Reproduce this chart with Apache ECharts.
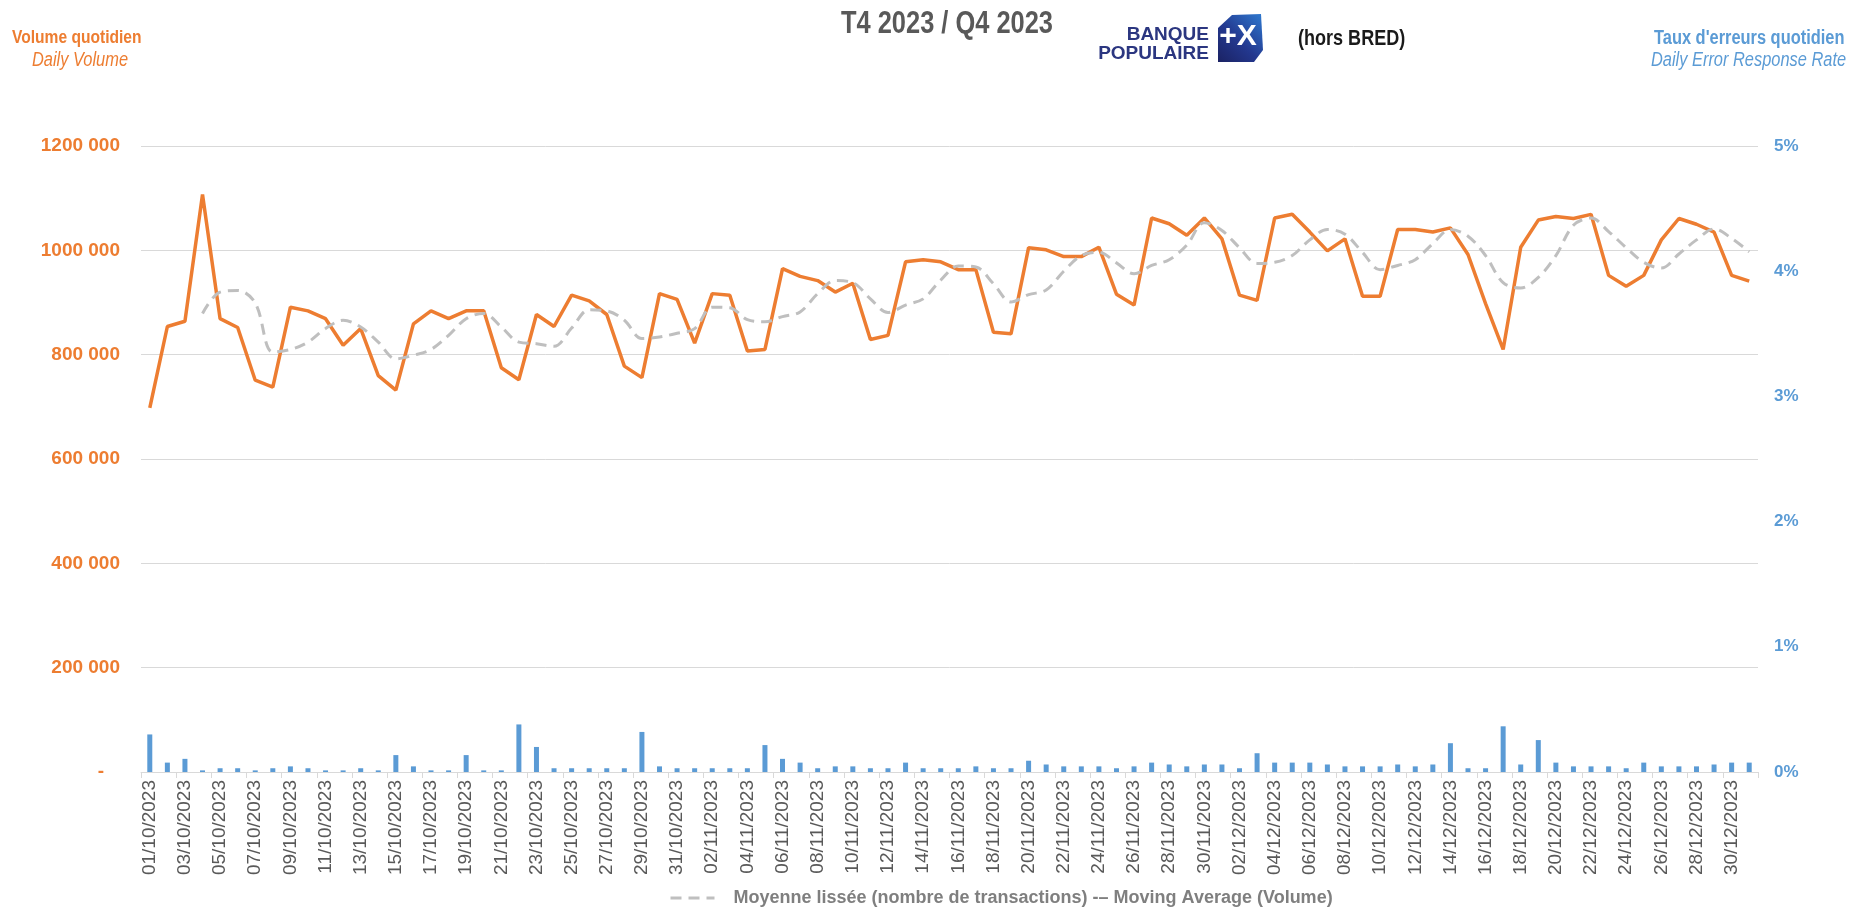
<!DOCTYPE html>
<html>
<head>
<meta charset="utf-8">
<title>Volume quotidien - T4 2023</title>
<script src="https://cdn.jsdelivr.net/npm/echarts@6/dist/echarts.min.js"></script>
<style>
  html, body { margin: 0; padding: 0; background: #fff; }
  #volumeChart { width: 1854px; height: 910px; }
</style>
</head>
<body>
<div id="volumeChart"></div>
<script>
  // jours du trimestre : 01/10/2023 -> 31/12/2023
  const days = []
  for (let i = 0; i < 92; i++) {
    const d = new Date(2023, 9, 1 + i)
    days.push(String(d.getDate()).padStart(2, '0') + '/' + String(d.getMonth() + 1).padStart(2, '0') + '/' + d.getFullYear())
  }

  // volume quotidien (nombre de transactions)
  const dailyVolume = [
    698000, 854000, 864000, 1107000, 869000, 852000, 751000, 738000, 891000, 884000,
    869000, 818000, 850000, 760000, 732000, 859000, 884000, 869000, 884000, 884000,
    775000, 752000, 877000, 854000, 914000, 903000, 877000, 778000, 756000, 917000,
    906000, 822000, 917000, 914000, 807000, 810000, 965000, 950000, 942000, 920000,
    937000, 829000, 837000, 978000, 982000, 978000, 963000, 963000, 843000, 840000,
    1005000, 1001000, 988000, 988000, 1006000, 916000, 895000, 1062000, 1051000, 1029000,
    1062000, 1022000, 914000, 904000, 1062000, 1069000, 1035000, 999000, 1022000, 912000,
    912000, 1040000, 1040000, 1035000, 1043000, 992000, 898000, 810000, 1006000, 1058000,
    1065000, 1061000, 1069000, 952000, 931000, 952000, 1020000, 1061000, 1050000, 1035000,
    952000, 941000
  ]

  // moyenne lissée
  const movingAverage = [
    null, null, null, 879000, 920000, 923000, 899000, 805000, 810000, 824000,
    850000, 866000, 853000, 824000, 792000, 799000, 810000, 837000, 869000, 879000,
    853000, 824000, 821000, 816000, 851000, 886000, 884000, 866000, 831000, 834000,
    841000, 850000, 891000, 890000, 867000, 863000, 873000, 882000, 917000, 942000,
    938000, 907000, 881000, 895000, 907000, 943000, 970000, 968000, 936000, 901000,
    915000, 924000, 960000, 990000, 996000, 976000, 955000, 971000, 982000, 1010000,
    1053000, 1038000, 1005000, 975000, 977000, 990000, 1020000, 1040000, 1031000, 996000,
    963000, 971000, 982000, 1013000, 1040000, 1027000, 990000, 938000, 928000, 948000,
    990000, 1048000, 1062000, 1036000, 1005000, 977000, 966000, 993000, 1020000, 1041000,
    1023000, 997000
  ]

  // taux d'erreurs quotidien (%)
  const errorRate = [
    0.30, 0.075, 0.105, 0.013, 0.03, 0.03, 0.013, 0.03, 0.045, 0.03,
    0.013, 0.013, 0.03, 0.013, 0.135, 0.045, 0.013, 0.013, 0.135, 0.013,
    0.013, 0.38, 0.2, 0.03, 0.03, 0.03, 0.03, 0.03, 0.32, 0.045,
    0.03, 0.03, 0.03, 0.03, 0.03, 0.215, 0.105, 0.075, 0.03, 0.045,
    0.045, 0.03, 0.03, 0.075, 0.03, 0.03, 0.03, 0.045, 0.03, 0.03,
    0.09, 0.06, 0.045, 0.045, 0.045, 0.03, 0.045, 0.075, 0.06, 0.045,
    0.06, 0.06, 0.03, 0.15, 0.075, 0.075, 0.075, 0.06, 0.045, 0.045,
    0.045, 0.06, 0.045, 0.06, 0.23, 0.03, 0.03, 0.365, 0.06, 0.255,
    0.075, 0.045, 0.045, 0.045, 0.03, 0.075, 0.045, 0.045, 0.045, 0.06,
    0.075, 0.075
  ]

  // graduations
  const volumeMax = 1200000
  const volumeStep = 200000
  const rateMax = 5
  const rateStep = 1

  const orange = '#ED7D31'
  const blue = '#5B9BD5'
  const navy = '#2b3680'
  const maName = 'Moyenne lissée (nombre de transactions) -– Moving Average (Volume)'

  // texte "étroit" : Liberation Sans compressé (pas d'Arial Narrow ici)
  function narrowText (text, x, y, font, fill, align) {
    return {
      type: 'text', x: x, y: y, scaleX: 0.82,
      style: {text: text, font: font, fill: fill, align: align || 'left', verticalAlign: 'middle'}
    }
  }

  const myChart = echarts.init(document.getElementById('volumeChart'))

  const option = {
    backgroundColor: '#fff',
    animation: false,
    graphic: [
      narrowText('Volume quotidien', 12, 38, 'bold 19px Liberation Sans', orange),
      narrowText('Daily Volume', 32, 60, 'italic 20px Liberation Sans', orange),
      narrowText('T4 2023 / Q4 2023', 841, 24, 'bold 31px Liberation Sans', '#595959'),
      {type: 'text', x: 1209, y: 35, style: {text: 'BANQUE', font: 'bold 19px Liberation Sans', fill: navy, align: 'right', verticalAlign: 'middle'}},
      {type: 'text', x: 1209, y: 54, style: {text: 'POPULAIRE', font: 'bold 19px Liberation Sans', fill: navy, align: 'right', verticalAlign: 'middle'}},
      {
        type: 'polygon',
        shape: {points: [[1232, 15], [1261, 14], [1263, 50], [1254, 62], [1218, 62], [1218, 28]]},
        style: {
          fill: new echarts.graphic.LinearGradient(1, 0, 0, 1, [
            {offset: 0, color: '#2f7ad0'},
            {offset: 0.55, color: '#23388f'},
            {offset: 1, color: '#1b2263'}
          ])
        }
      },
      {type: 'text', x: 1238, y: 37, style: {text: '+X', font: 'bold 30px Liberation Sans', fill: '#fff', align: 'center', verticalAlign: 'middle'}},
      narrowText('(hors BRED)', 1298, 39, 'bold 22px Liberation Sans', '#1a1a1a'),
      narrowText("Taux d'erreurs quotidien", 1654, 38, 'bold 20px Liberation Sans', blue),
      narrowText('Daily Error Response Rate', 1651, 60, 'italic 20px Liberation Sans', blue)
    ],
    legend: {
      data: [maName],
      left: 664,
      top: 884,
      itemWidth: 44,
      itemHeight: 10,
      itemStyle: {opacity: 0},
      lineStyle: {color: '#BFBFBF', width: 3, type: [11, 7]},
      textStyle: {color: '#7f7f7f', fontWeight: 'bold', fontSize: 18, fontFamily: 'Liberation Sans', padding: [0, 0, 0, 14]}
    },
    grid: {left: 141, right: 96, top: 146, bottom: 138},
    xAxis: {
      type: 'category',
      data: days,
      boundaryGap: true,
      axisLine: {lineStyle: {color: '#D9D9D9', width: 1}},
      axisTick: {show: true, interval: 1, length: 6, lineStyle: {color: '#D9D9D9'}},
      axisLabel: {
        interval: 1,
        rotate: 90,
        margin: 8,
        color: '#595959',
        fontSize: 19,
        fontFamily: 'Liberation Sans'
      }
    },
    yAxis: [
      {
        type: 'value',
        min: 0,
        max: volumeMax,
        interval: volumeStep,
        axisLine: {show: false},
        axisTick: {show: false},
        splitLine: {lineStyle: {color: '#D9D9D9', width: 1}},
        axisLabel: {
          margin: 21,
          color: orange,
          fontWeight: 'bold',
          fontSize: 19,
          fontFamily: 'Liberation Sans',
          formatter: function (v) {
            if (v === 0) return '-   '
            return Math.floor(v / 1000) + ' 000'
          }
        }
      },
      {
        type: 'value',
        min: 0,
        max: rateMax,
        interval: rateStep,
        axisLine: {show: false},
        axisTick: {show: false},
        splitLine: {show: false},
        axisLabel: {
          margin: 16,
          color: blue,
          fontWeight: 'bold',
          fontSize: 17,
          fontFamily: 'Liberation Sans',
          formatter: '{value}%'
        }
      }
    ],
    series: [
      {
        name: "Taux d'erreurs",
        type: 'bar',
        yAxisIndex: 1,
        data: errorRate,
        barWidth: 5,
        itemStyle: {color: blue},
        z: 1
      },
      {
        name: 'Volume quotidien',
        type: 'line',
        data: dailyVolume,
        symbol: 'none',
        lineStyle: {color: orange, width: 3.5},
        itemStyle: {color: orange},
        z: 3
      },
      {
        name: maName,
        type: 'line',
        data: movingAverage,
        symbol: 'none',
        smooth: 0.35,
        lineStyle: {color: '#BFBFBF', width: 3, type: [11, 7]},
        itemStyle: {color: '#BFBFBF'},
        z: 4
      }
    ]
  }

  myChart.setOption(option)
</script>
</body>
</html>
